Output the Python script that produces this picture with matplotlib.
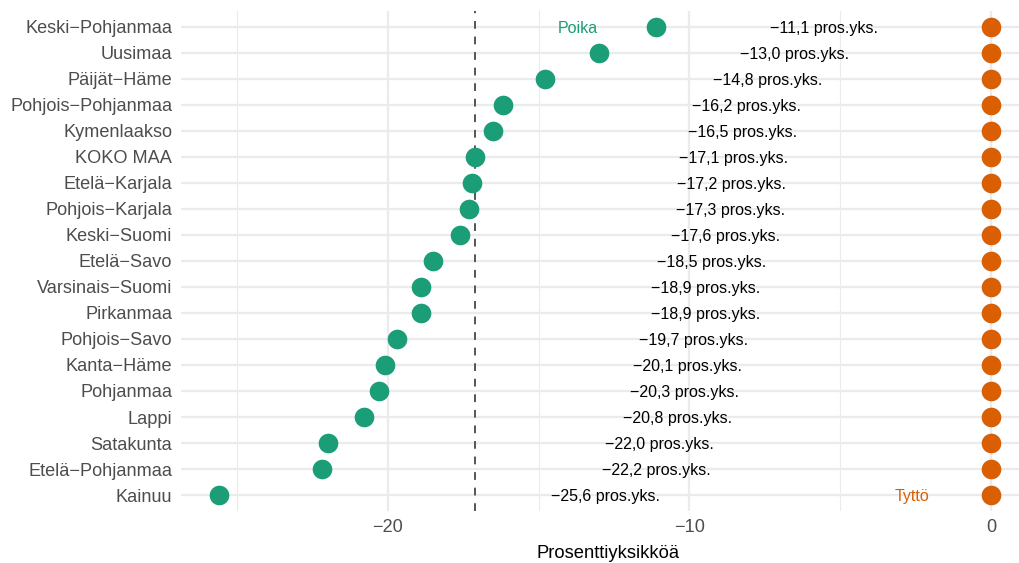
import numpy as np
import matplotlib.pyplot as plt

plt.rcParams['font.family'] = ['Liberation Sans', 'DejaVu Sans']

regions = ["Keski−Pohjanmaa", "Uusimaa", "Päijät−Häme", "Pohjois−Pohjanmaa",
           "Kymenlaakso", "KOKO MAA", "Etelä−Karjala", "Pohjois−Karjala",
           "Keski−Suomi", "Etelä−Savo", "Varsinais−Suomi", "Pirkanmaa",
           "Pohjois−Savo", "Kanta−Häme", "Pohjanmaa", "Lappi", "Satakunta",
           "Etelä−Pohjanmaa", "Kainuu"]
poika = [-11.1, -13.0, -14.8, -16.2, -16.5, -17.1, -17.2, -17.3, -17.6, -18.5,
         -18.9, -18.9, -19.7, -20.1, -20.3, -20.8, -22.0, -22.2, -25.6]
tytto = [0.0] * len(regions)
koko_maa = -17.1

green = "#1b9e77"
orange = "#d95f02"

fig = plt.figure(figsize=(10.19, 5.63), dpi=100)
ax = fig.add_axes([0.1772, 0.093, 0.8233, 0.887])

n = len(regions)
y = np.arange(n)[::-1]

ax.set_xlim(-26.88, 0.95)
ax.set_ylim(-0.6, n - 0.4)

for v in [-25, -15, -5]:
    ax.axvline(v, color="#ebebeb", lw=0.8, zorder=0)
for v in [-20, -10, 0]:
    ax.axvline(v, color="#ebebeb", lw=1.6, zorder=0)
for yy in y:
    ax.axhline(yy, color="#ebebeb", lw=1.6, zorder=0)

ax.axvline(koko_maa, color="#555555", lw=1.4, ls=(0, (4, 4)), zorder=1)

ax.scatter(poika, y, s=200, color=green, zorder=3, linewidths=0)
ax.scatter(tytto, y, s=200, color=orange, zorder=3, linewidths=0)

for p, t, yy in zip(poika, tytto, y):
    lab = f"{p:.1f}".replace("-", "−").replace(".", ",") + " pros.yks."
    ax.text((p + t) / 2, yy - 0.05, lab, ha="center", va="center", fontsize=11.5, color="black")

ax.text(-13.7, y[0] - 0.05, "Poika", ha="center", va="center", fontsize=11.5, color=green)
ax.text(-2.6, y[-1] - 0.05, "Tyttö", ha="center", va="center", fontsize=11.5, color=orange)

ax.set_yticks(y)
ax.set_yticklabels(regions)
ax.set_xticks([-20, -10, 0])
ax.set_xticklabels(["−20", "−10", "0"])
ax.tick_params(axis="both", length=0, labelsize=13.1, colors="#4d4d4d", pad=6)
ax.set_xlabel("Prosenttiyksikköä", fontsize=13.2)
ax.xaxis.set_label_coords(0.509, -0.068)
ax.xaxis.label.set_va("top")

for s in ax.spines.values():
    s.set_visible(False)

fig.savefig("out.png", dpi=100)
